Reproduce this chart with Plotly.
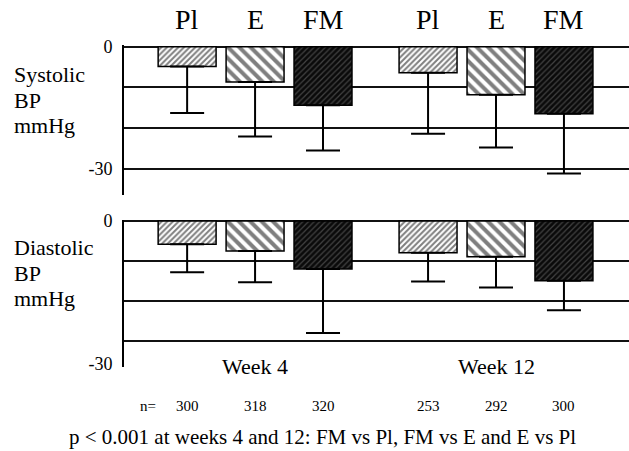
import plotly.graph_objects as go

# ---------------- data ----------------
weeks = ["Week 4", "Week 12"]
groups = ["Pl", "E", "FM"]
n_counts = [[300, 318, 320], [253, 292, 300]]  # [week][group]

# mean change (mmHg) and SD-length downward error
sys_mean = {"Pl": [-4.9, -6.4], "E": [-8.7, -11.8], "FM": [-14.4, -16.5]}
sys_err = {"Pl": [11.4, 15.0], "E": [13.4, 13.0], "FM": [11.1, 14.7]}
dia_mean = {"Pl": [-5.8, -7.9], "E": [-7.5, -8.9], "FM": [-12.0, -14.9]}
dia_err = {"Pl": [7.0, 7.2], "E": [7.8, 7.7], "FM": [16.0, 7.4]}

top_ticks = [0, -10, -20, -30]
top_ticktext = ["0", "", "", "-30"]
bot_grid = [-10, -20, -30]
bot_ticks = [0, -35.6]
bot_ticktext = ["0", "-30"]

footnote = "p < 0.001 at weeks 4 and 12: FM vs Pl, FM vs E and E vs Pl"

# ---------------- styles ----------------
FONT = "Liberation Serif"
W, H = 629, 451
ML, MR, MT, MB = 124, 0, 45, 84
PH = H - MT - MB
PW = W - ML - MR
BARGAP = 0.154
BARGROUPGAP = 0.147

styles = {
    "Pl": dict(shape="/", fgcolor="black", bgcolor="white", size=4, solidity=0.5),
    "E": dict(shape="\\", fgcolor="black", bgcolor="white", size=8, solidity=0.5),
    "FM": dict(shape="/", fgcolor="#7a7a7a", bgcolor="#0a0a0a", size=4, solidity=0.3),
}


def py(pix):
    return (H - MB - pix) / PH


def px(pix):
    return (pix - ML) / PW


fig = go.Figure()
for g in groups:
    for means, errs, xa, ya in [(sys_mean, sys_err, "x", "y"), (dia_mean, dia_err, "x2", "y2")]:
        fig.add_trace(go.Bar(
            x=weeks, y=means[g], name=g, xaxis=xa, yaxis=ya, showlegend=False,
            marker=dict(color=styles[g]["bgcolor"], line=dict(color="black", width=1.5),
                        pattern=styles[g]),
            error_y=dict(type="data", symmetric=False, array=[0, 0], arrayminus=errs[g],
                         color="black", thickness=2, width=17),
        ))

grid = dict(showgrid=True, gridcolor="#111111", gridwidth=1.5)
yax_common = dict(showline=True, linecolor="black", linewidth=2, ticks="",
                  zeroline=True, zerolinecolor="#111111", zerolinewidth=1.5,
                  tickfont=dict(family=FONT, size=18, color="black"), ticklabelstandoff=6)
xax_common = dict(range=[-0.544, 1.552], showticklabels=False, showgrid=False,
                  zeroline=False, showline=False, ticks="")

fig.update_layout(
    width=W, height=H, autosize=False,
    margin=dict(l=ML, r=MR, t=MT, b=MB),
    paper_bgcolor="white", plot_bgcolor="white",
    barmode="group", bargap=BARGAP, bargroupgap=BARGROUPGAP,
    xaxis=dict(anchor="y", **xax_common),
    xaxis2=dict(anchor="y2", **xax_common),
    yaxis=dict(anchor="x", domain=[0.535, 1], range=[-36.4, 0.4],
               tickvals=top_ticks, ticktext=top_ticktext, **grid, **yax_common),
    yaxis2=dict(anchor="x2", domain=[0, 0.458], range=[-36.5, 0.4],
                tickvals=bot_ticks, ticktext=bot_ticktext, showgrid=False,
                minor=dict(tickvals=bot_grid, showgrid=True, gridcolor="#111111",
                           gridwidth=1.5, ticks=""),
                **yax_common),
    font=dict(family=FONT, color="black"),
)

ann = []
slot = (1 - BARGAP) / len(groups)
for wi, wk in enumerate(weeks):
    for gi, g in enumerate(groups):
        xc = wi + (gi - (len(groups) - 1) / 2) * slot
        ann.append(dict(x=xc, xref="x", y=py(20), yref="paper", text=g, showarrow=False,
                        font=dict(size=28), xanchor="center", yanchor="middle"))
        ann.append(dict(x=xc, xref="x", y=py(406), yref="paper", text=str(n_counts[wi][gi]),
                        showarrow=False, font=dict(size=15), xanchor="center", yanchor="middle"))
    ann.append(dict(x=wi, xref="x", y=py(366), yref="paper", text=wk, showarrow=False,
                    font=dict(size=22), xanchor="center", yanchor="middle"))

ann.append(dict(x=px(148), xref="paper", y=py(406), yref="paper", text="n=", showarrow=False,
                font=dict(size=15), xanchor="center", yanchor="middle"))
ann.append(dict(x=px(322), xref="paper", y=py(437), yref="paper", text=footnote,
                showarrow=False, font=dict(size=21), xanchor="center", yanchor="middle"))

side_labels = [(["Systolic", "BP", "mmHg"], [75, 100, 126]),
               (["Diastolic", "BP", "mmHg"], [247, 273, 298])]
for lines, ys in side_labels:
    for t, yv in zip(lines, ys):
        ann.append(dict(x=px(12), xref="paper", y=py(yv), yref="paper", text=t,
                        showarrow=False, font=dict(size=22), xanchor="left", yanchor="middle"))

fig.update_layout(annotations=ann)
fig.write_html("out.html", config={"displayModeBar": False},
               post_script="document.body.style.margin='0px';document.body.style.overflow='hidden';")
